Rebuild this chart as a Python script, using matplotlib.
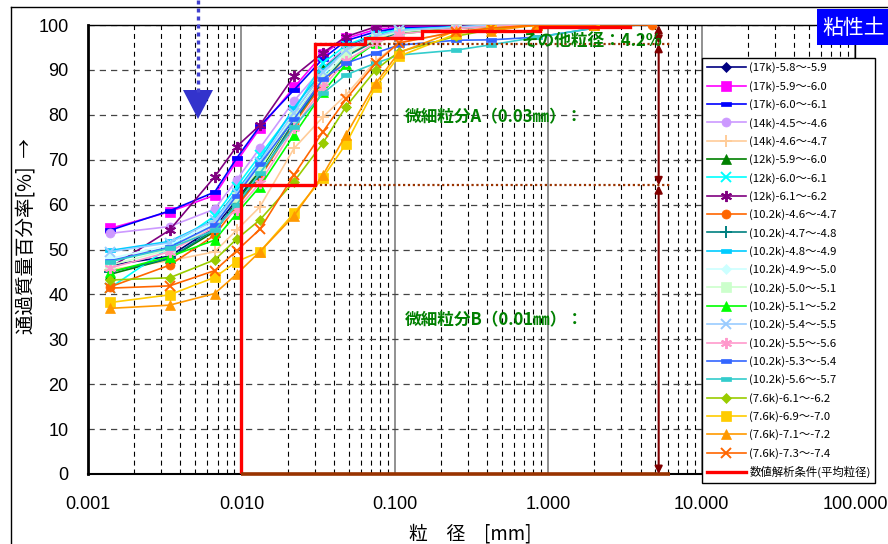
import numpy as np
import matplotlib
matplotlib.use("Agg")
import matplotlib.pyplot as plt
from matplotlib.path import Path
from matplotlib.patches import Rectangle, Polygon
from matplotlib.lines import Line2D
from matplotlib.ticker import LogLocator, FixedLocator, FixedFormatter, NullFormatter

plt.rcParams['font.family'] = ['Liberation Sans', 'Noto Sans CJK JP']
JP = ['Noto Sans CJK JP', 'DejaVu Sans']

# particle diameters [mm] (hydrometer + sieve)
sizes_mm = [0.0014, 0.0034, 0.0067, 0.0093, 0.0132, 0.022, 0.034, 0.048,
            0.075, 0.106, 0.25, 0.425, 0.85, 2.0, 4.75]

# percent passing for each sample
p17k_58_59 = [46.5, 48.5, 55.0, 61.0, 68.0, 80.0, 89.0, 95.0, 98.0, 99.0, 99.6, 99.8, 100, 100]
p17k_59_60 = [54.7, 58.4, 62.1, 69.6, 77.0, 86.1, 93.5, 97.0, 99.0, 99.5, 99.8, 100, 100, 100]
p17k_60_61 = [54.3, 58.6, 62.8, 70.3, 77.5, 85.5, 92.5, 96.5, 98.5, 99.3, 99.7, 100, 100, 100]
p14k_45_46 = [53.6, 55.1, 59.0, 65.5, 72.6, 83.1, 90.5, 95.0, 97.5, 98.8, 99.5, 100, 100, 100]
p14k_46_47 = [45.5, 47.5, 49.5, 54.3, 59.5, 72.5, 79.5, 84.4, 92.0, 96.0, 98.5, 99.5, 100, 100]
p12k_59_60 = [44.5, 48.0, 54.0, 60.5, 67.5, 79.5, 90.2, 94.5, 97.5, 98.8, 99.5, 100, 100, 100]
p12k_60_61 = [41.5, 50.5, 57.5, 64.0, 71.0, 81.0, 91.5, 95.5, 98.0, 99.0, 99.6, 100, 100, 100]
p12k_61_62 = [46.0, 54.3, 66.2, 72.9, 77.7, 88.6, 93.8, 97.4, 99.6, 99.8, 100, 100, 100, 100]
p102k_46_47 = [41.7, 46.5, 53.2, 59.5, 66.0, 78.0, 87.0, 93.0, 97.0, 98.5, 99.3, 99.7, 100, 100, 100]
p102k_47_48 = [45.0, 48.0, 54.5, 60.0, 66.5, 78.5, 87.5, 93.0, 96.5, 98.2, 99.2, 99.7, 100, 100]
p102k_48_49 = [49.8, 51.8, 56.6, 63.0, 70.0, 81.5, 90.0, 94.5, 97.5, 98.8, 99.5, 100, 100, 100]
p102k_49_50 = [48.0, 51.0, 56.0, 62.0, 69.0, 80.0, 88.9, 94.0, 97.2, 98.6, 99.4, 99.8, 100, 100]
p102k_50_51 = [46.5, 50.0, 55.5, 61.8, 68.0, 79.6, 88.0, 93.5, 97.0, 98.5, 99.3, 99.8, 100, 100]
p102k_51_52 = [45.0, 48.4, 52.1, 58.0, 64.0, 75.5, 85.0, 91.3, 96.0, 98.0, 99.3, 99.7, 100, 100]
p102k_54_55 = [49.5, 51.5, 56.5, 62.5, 69.5, 80.5, 89.5, 94.4, 97.5, 98.8, 99.5, 100, 100, 100]
p102k_55_56 = [45.9, 49.5, 55.0, 58.8, 64.8, 77.0, 86.2, 92.0, 96.0, 98.0, 99.2, 99.7, 100, 100]
p102k_53_54 = [47.5, 50.5, 55.5, 62.0, 69.0, 79.0, 88.0, 91.5, 93.8, 95.5, 96.6, 96.7, 97.3, 99.3]
p102k_56_57 = [47.3, 50.3, 54.3, 60.0, 67.0, 77.3, 84.8, 88.9, 91.5, 93.3, 94.4, 95.6, 97.3, 99.3]
p76k_61_62 = [43.2, 43.7, 47.7, 52.3, 56.6, 65.1, 73.7, 81.8, 90.0, 94.0, 97.5, 99.0, 100, 100]
p76k_69_70 = [38.2, 39.9, 43.8, 47.3, 49.5, 58.1, 66.0, 73.5, 86.2, 93.0, 98.0, 99.3, 100, 100]
p76k_71_72 = [36.9, 37.6, 40.2, 44.5, 49.5, 57.5, 66.6, 75.5, 87.0, 93.8, 98.7, 98.7, 100, 100]
p76k_73_74 = [41.4, 41.9, 45.3, 49.7, 54.5, 66.6, 76.2, 83.5, 91.5, 96.0, 98.5, 99.3, 100, 100]

# analysis condition (mean grain size) step curve
cond_mm = [0.01, 0.01, 0.03, 0.03, 0.064, 0.064, 0.15, 0.15, 0.88, 0.88, 3.4]
cond_pct = [0, 64.3, 64.3, 95.8, 95.8, 97.2, 97.2, 98.6, 98.6, 99.6, 99.6]

# fractions shown by the dimension arrows
other_pct = 4.2
fine_a_pct = 95.8
fine_b_pct = 64.3

series_labels = [
    '(17k)-5.8～-5.9', '(17k)-5.9～-6.0', '(17k)-6.0～-6.1',
    '(14k)-4.5～-4.6', '(14k)-4.6～-4.7',
    '(12k)-5.9～-6.0', '(12k)-6.0～-6.1', '(12k)-6.1～-6.2',
    '(10.2k)-4.6～-4.7', '(10.2k)-4.7～-4.8', '(10.2k)-4.8～-4.9',
    '(10.2k)-4.9～-5.0', '(10.2k)-5.0～-5.1', '(10.2k)-5.1～-5.2',
    '(10.2k)-5.4～-5.5', '(10.2k)-5.5～-5.6', '(10.2k)-5.3～-5.4',
    '(10.2k)-5.6～-5.7',
    '(7.6k)-6.1～-6.2', '(7.6k)-6.9～-7.0', '(7.6k)-7.1～-7.2', '(7.6k)-7.3～-7.4',
]
series_values = [
    p17k_58_59, p17k_59_60, p17k_60_61, p14k_45_46, p14k_46_47,
    p12k_59_60, p12k_60_61, p12k_61_62,
    p102k_46_47, p102k_47_48, p102k_48_49, p102k_49_50, p102k_50_51,
    p102k_51_52, p102k_54_55, p102k_55_56, p102k_53_54, p102k_56_57,
    p76k_61_62, p76k_69_70, p76k_71_72, p76k_73_74,
]
cond_label = '数値解析条件(平均粒径)'

# marker shapes
DASH = Path([(-1, -0.4), (1, -0.4), (1, 0.4), (-1, 0.4), (-1, -0.4)],
            [Path.MOVETO, Path.LINETO, Path.LINETO, Path.LINETO, Path.CLOSEPOLY])
STAR = (6, 2, 0)

series_styles = [
    ('#000080', 'D', 5.5), ('#FF00FF', 's', 6.5), ('#0000FF', DASH, 6.5),
    ('#CC99FF', 'o', 6.5), ('#FFCC99', '+', 8),
    ('#008000', '^', 7), ('#00FFFF', 'x', 7), ('#800080', STAR, 8),
    ('#FF6600', 'o', 6.5), ('#008080', '+', 8), ('#00CCFF', DASH, 6.5),
    ('#CCFFFF', 'D', 5.5), ('#CCFFCC', 's', 6.5), ('#00FF00', '^', 7),
    ('#99CCFF', 'x', 7), ('#FF99CC', STAR, 8), ('#3366FF', DASH, 6.5),
    ('#33CCCC', DASH, 6.5),
    ('#99CC00', 'D', 5.5), ('#FFCC00', 's', 6.5), ('#FF9900', '^', 7), ('#FF6600', 'x', 7),
]

W, H = 888, 544


def fpx(x, y):
    return (x / W, 1 - y / H)


fig = plt.figure(figsize=(W / 100, H / 100), dpi=100)
ax = fig.add_axes([88 / W, 1 - 474 / H, (855 - 88) / W, (474 - 25) / H])
ax.set_xscale('log')
ax.set_xlim(0.001, 100)
ax.set_ylim(0, 100)
ax.set_axisbelow(True)

ax.xaxis.set_major_locator(FixedLocator([0.001, 0.01, 0.1, 1, 10, 100]))
ax.xaxis.set_major_formatter(FixedFormatter(['0.001', '0.010', '0.100', '1.000', '10.000', '100.000']))
ax.xaxis.set_minor_locator(LogLocator(base=10, subs=np.arange(2, 10)))
ax.xaxis.set_minor_formatter(NullFormatter())
ax.set_yticks(np.arange(0, 101, 10))
ax.tick_params(which='both', length=0)
ax.tick_params(axis='x', pad=16, labelsize=13)
ax.tick_params(axis='y', pad=14, labelsize=13)

ax.grid(axis='y', which='major', color='#444444', lw=0.9, linestyle=(0, (5, 4)))
ax.grid(axis='x', which='minor', color='black', lw=0.8, linestyle=(0, (4.5, 3.5)))
ax.grid(axis='x', which='major', color='#888888', lw=1.3, linestyle='-')

ax.spines['left'].set_linewidth(2)
ax.spines['bottom'].set_linewidth(1.5)
ax.spines['top'].set_linewidth(1)
ax.spines['right'].set_linewidth(1)

handles = []
for vals, (col, mk, ms) in zip(series_values, series_styles):
    open_marker = mk in ('+', 'x', STAR)
    ln, = ax.plot(sizes_mm[:len(vals)], vals, color=col, lw=1.2, marker=mk, ms=ms,
                  mfc=col, mec=col, mew=1.4 if open_marker else 0.5, zorder=3)
    handles.append(ln)

red, = ax.plot(cond_mm, cond_pct, color='#FF0000', lw=2.4, zorder=5,
               solid_joinstyle='miter')
handles.append(red)

# dimension lines for the fractions
brown = '#993300'
ax.plot([0.01, 6.2], [0, 0], color=brown, lw=2.6, zorder=6, clip_on=False,
        solid_capstyle='butt')
ax.plot([0.03, 6.4], [fine_a_pct, fine_a_pct], color=brown, lw=1.6,
        linestyle=(0, (1, 1.2)), zorder=4)
ax.plot([0.03, 6.2], [fine_b_pct, fine_b_pct], color=brown, lw=1.6,
        linestyle=(0, (1, 1.2)), zorder=4)

xarr = 5.25
for y0, y1 in [(100, 100 - other_pct), (fine_a_pct, fine_b_pct), (fine_b_pct, 0)]:
    ax.annotate('', xy=(xarr, y0), xytext=(xarr, y1),
                arrowprops=dict(arrowstyle='<|-|>', color='#800000', lw=1.5,
                                shrinkA=0, shrinkB=0, mutation_scale=11),
                zorder=6, annotation_clip=False)

green = '#008000'
ax.text(0.67, 96.2, f'その他粒径：{other_pct}%', color=green, fontsize=12,
        fontweight='bold', family=JP, ha='left', va='center', zorder=7)
ax.text(0.116, 79.5, '微細粒分A（0.03㎜）：', color=green, fontsize=12,
        fontweight='bold', family=JP, ha='left', va='center', zorder=7)
ax.text(0.116, 34.3, '微細粒分B（0.01㎜）：', color=green, fontsize=12,
        fontweight='bold', family=JP, ha='left', va='center', zorder=7)

leg = ax.legend(handles, series_labels + [cond_label], loc='upper left',
                bbox_to_anchor=fpx(702, 58), bbox_transform=fig.transFigure,
                frameon=True, fancybox=False, edgecolor='black', framealpha=1,
                prop={'family': JP, 'size': 8.2}, labelspacing=0.65,
                handlelength=3.5, handletextpad=0.25, borderpad=0.4,
                borderaxespad=0)
leg.get_frame().set_linewidth(1.0)
leg.set_zorder(10)

# axis titles
fig.text(*fpx(470, 534), '粒　径　[mm]', fontsize=13.5, family=JP, ha='center', va='center')
fig.text(*fpx(26, 236), '通過質量百分率[%]  →', fontsize=14, family=JP,
         rotation=90, ha='center', va='center')

# outer chart frame
fig.add_artist(Line2D([11 / W, 11 / W], [0, 1 - 7 / H], transform=fig.transFigure,
                      color='black', lw=1))
fig.add_artist(Line2D([11 / W, 1], [1 - 7 / H, 1 - 7 / H], transform=fig.transFigure,
                      color='black', lw=1))

# soil type badge
fig.add_artist(Rectangle(fpx(817, 45), 80 / W, 36 / H, transform=fig.transFigure,
                         facecolor='#0000FF', edgecolor='none'))
fig.text(*fpx(822, 28), '粘性土', color='white', fontsize=15, family=JP,
         ha='left', va='center')

# downward pointer
arrow_col = '#3F3FCF'
fig.add_artist(Line2D([198 / W, 198 / W], [1, 1 - 92 / H], transform=fig.transFigure,
                      color=arrow_col, lw=2.4, linestyle=(0, (1.2, 1.2)),
                      solid_capstyle='butt', dash_capstyle='butt'))
fig.add_artist(Polygon([fpx(183, 90), fpx(213, 90), fpx(198, 119)], closed=True,
                       transform=fig.transFigure, facecolor='#3333CC', edgecolor='none'))

fig.savefig('out.png', dpi=100)
